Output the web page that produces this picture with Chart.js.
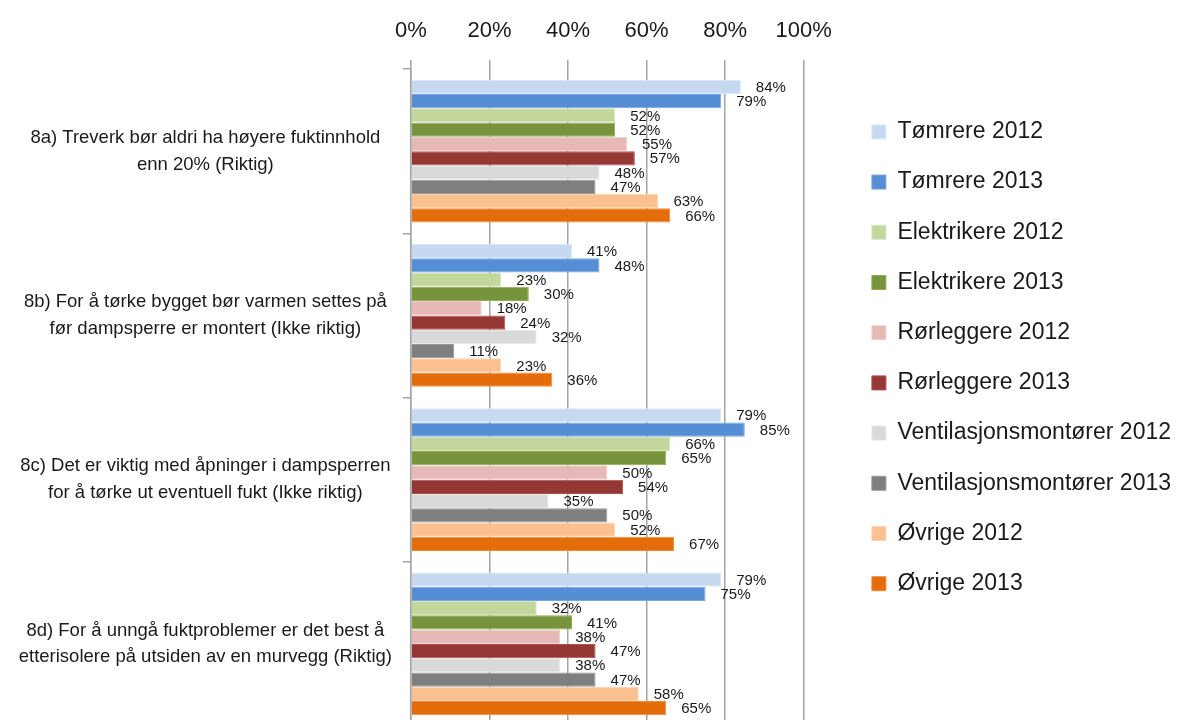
<!DOCTYPE html>
<html>
<head>
<meta charset="utf-8">
<script src="https://cdn.jsdelivr.net/npm/chart.js@4.4.1/dist/chart.umd.min.js"></script>
<style>
html,body{margin:0;padding:0;background:#fff;overflow:hidden}
#wrap{position:relative;width:1181px;height:726px}
</style>
</head>
<body>
<div id="wrap"><canvas id="c"></canvas></div>
<script>
// ---- data ----
const categories = [
  ["8a) Treverk bør aldri ha høyere fuktinnhold", "enn 20% (Riktig)"],
  ["8b) For å tørke bygget bør varmen settes på", "før dampsperre er montert (Ikke riktig)"],
  ["8c) Det er viktig med åpninger i dampsperren", "for å tørke ut eventuell fukt (Ikke riktig)"],
  ["8d) For å unngå fuktproblemer er det best å", "etterisolere på utsiden av en murvegg (Riktig)"]
];
const seriesNames = [
  "Tømrere 2012", "Tømrere 2013", "Elektrikere 2012", "Elektrikere 2013",
  "Rørleggere 2012", "Rørleggere 2013", "Ventilasjonsmontører 2012",
  "Ventilasjonsmontører 2013", "Øvrige 2012", "Øvrige 2013"
];
const tomrere2012 = [84, 41, 79, 79];
const tomrere2013 = [79, 48, 85, 75];
const elektrikere2012 = [52, 23, 66, 32];
const elektrikere2013 = [52, 30, 65, 41];
const rorleggere2012 = [55, 18, 50, 38];
const rorleggere2013 = [57, 24, 54, 47];
const ventilasjon2012 = [48, 32, 35, 38];
const ventilasjon2013 = [47, 11, 50, 47];
const ovrige2012 = [63, 23, 52, 58];
const ovrige2013 = [66, 36, 67, 65];
const xTickValues = [0, 20, 40, 60, 80, 100];

const seriesValues = [tomrere2012, tomrere2013, elektrikere2012, elektrikere2013,
  rorleggere2012, rorleggere2013, ventilasjon2012, ventilasjon2013, ovrige2012, ovrige2013];
const fills = ["#c6d9f1", "#558ed5", "#c3d69b", "#77933c", "#e6b9b8",
  "#953735", "#d9d9d9", "#7f7f7f", "#fac090", "#e46c0a"];
const edges = ["#dce8f7", "#7aa7e0", "#d7e4bd", "#8fac54", "#f0d0cf",
  "#b0504d", "#e8e8e8", "#999999", "#fcd5b4", "#f08a34"];

const FONT = "'Liberation Sans', Arial, sans-serif";
Chart.defaults.font.family = FONT;
Chart.defaults.color = "#1a1a1a";

const valueLabels = {
  id: "valueLabels",
  afterDatasetsDraw(chart) {
    const ctx = chart.ctx;
    ctx.save();
    ctx.font = "15px " + FONT;
    ctx.fillStyle = "#1a1a1a";
    ctx.textAlign = "left";
    ctx.textBaseline = "middle";
    chart.data.datasets.forEach((ds, i) => {
      const meta = chart.getDatasetMeta(i);
      meta.data.forEach((el, j) => {
        ctx.fillText(ds.data[j] + "%", el.x + 15, el.y + 1);
      });
    });
    ctx.restore();
  }
};

const gridColor = "#a3a3a3";

new Chart(document.getElementById("c"), {
  type: "bar",
  data: {
    labels: categories,
    datasets: seriesNames.map((name, i) => ({
      label: name,
      data: seriesValues[i],
      backgroundColor: fills[i],
      borderColor: edges[i],
      borderWidth: 1,
      barPercentage: 1,
      categoryPercentage: 0.87
    }))
  },
  options: {
    indexAxis: "y",
    responsive: true,
    maintainAspectRatio: false,
    animation: false,
    layout: { padding: 0 },
    scales: {
      x: {
        position: "top",
        min: 0,
        max: 100,
        afterBuildTicks(s) { s.ticks = xTickValues.map(v => ({ value: v })); },
        afterFit(s) { s.height = 69; s.paddingLeft = 0; s.paddingRight = 0; },
        ticks: {
          padding: 16,
          font: { size: 22 },
          color: "#1a1a1a",
          callback: v => v + "%"
        },
        grid: { color: gridColor, lineWidth: 1.5, tickLength: 9, drawTicks: true },
        border: { display: false }
      },
      y: {
        afterFit(s) { s.width = 411; s.paddingTop = 0; s.paddingBottom = 0; },
        ticks: {
          crossAlign: "center",
          padding: 11,
          font: { size: 18.5, lineHeight: 1.45 },
          color: "#1a1a1a"
        },
        grid: { drawOnChartArea: false, drawTicks: true, tickLength: 8, color: gridColor, lineWidth: 1.5, offset: true },
        border: { display: true, color: gridColor, width: 1.5 }
      },
      gap: {
        type: "linear",
        position: "right",
        axis: "y",
        display: true,
        grid: { display: false },
        border: { display: false },
        ticks: { display: false },
        afterFit(s) { s.width = 41; s.paddingTop = 0; s.paddingBottom = 0; }
      }
    },
    plugins: {
      legend: {
        position: "right",
        align: "start",
        maxWidth: 420,
        title: { display: true, text: "", font: { size: 12 }, padding: 39.4 },
        labels: {
          boxWidth: 14,
          boxHeight: 14,
          padding: 27.2,
          font: { size: 23 },
          color: "#1a1a1a"
        }
      },
      tooltip: { enabled: false }
    }
  },
  plugins: [valueLabels]
});
</script>
</body>
</html>
